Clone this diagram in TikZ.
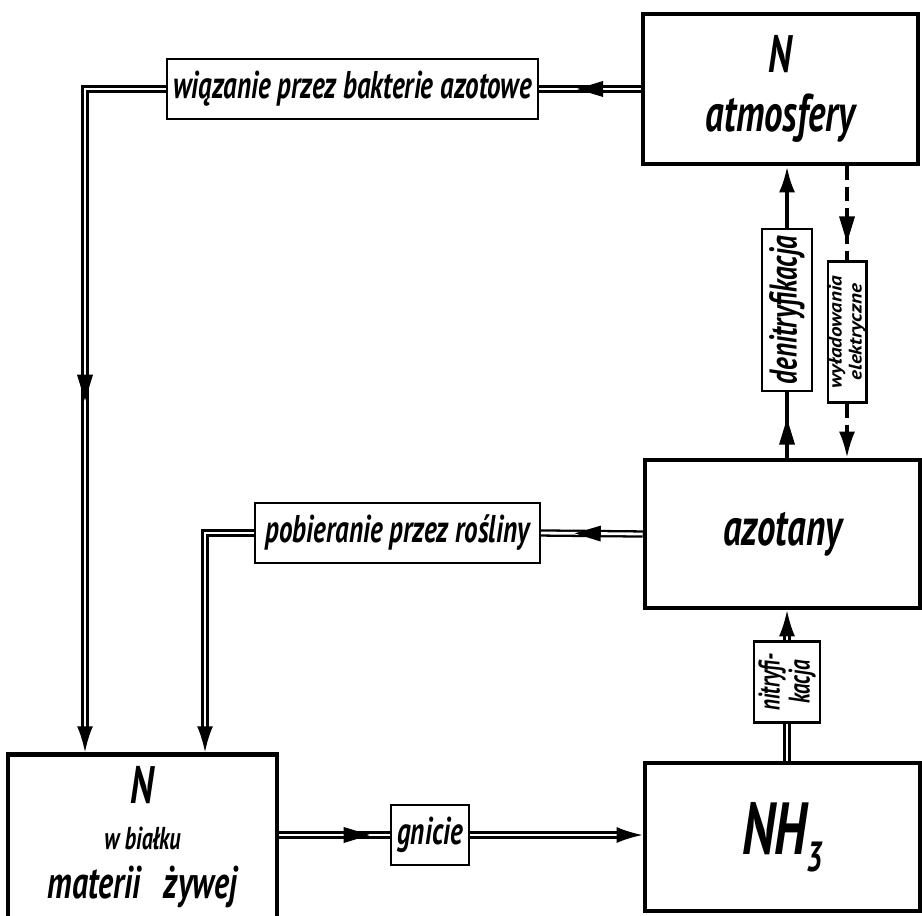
\documentclass[tikz,border=0pt]{standalone}
\usepackage{fontspec}
\newfontfamily\handfont{PT Sans}[FakeStretch=0.7]
\newfontfamily\widefont{PT Sans}[FakeStretch=1.15]
\usetikzlibrary{arrows.meta,positioning,decorations.markings}

\begin{document}
\begin{tikzpicture}[
  pool/.style={draw, rectangle, line width=1.3pt, minimum width=2.75cm, minimum height=1.5cm,
               align=center, font=\handfont\bfseries\itshape\fontsize{15}{17}\selectfont},
  lbl/.style={draw, rectangle, line width=0.6pt, fill=white, inner xsep=1.8pt, inner ysep=3.5pt,
              font=\handfont\bfseries\itshape\fontsize{11}{11}\selectfont},
  flow/.style={double, double distance=0.8pt, line width=0.65pt},
  tip/.style={-{Latex[length=2.6mm,width=1.6mm]}},
  midtip/.style={postaction={decorate}, decoration={markings,
      mark=at position #1 with {\fill (0.13,0) -- (-0.13,0.08) -- (-0.13,-0.08) -- cycle;}}},
]
\useasboundingbox (0,0) rectangle (9.22,9.15);

% Pools of nitrogen
\node[pool] (atm)  at (7.805,8.26) {N\\atmosfery};
\node[pool, minimum height=1.48cm] (azot) at (7.825,3.81) {azotany};
\node[pool, minimum height=1.48cm] (nh3)  at (7.825,0.78)
  {\fontsize{21}{24}\selectfont NH\raisebox{-0.45ex}{\fontsize{12}{12}\selectfont 3}};
\node[pool, minimum width=2.69cm, font=\handfont\bfseries\itshape\fontsize{13}{14}\selectfont] (bial) at (1.425,0.78)
  {{\fontsize{15}{15}\selectfont N}\\[-1pt]{\fontsize{9}{10}\selectfont w białku}\\materii\enspace żywej};

% Process labels
\node[lbl] (wiaz) at (3.525,8.26) {wiązanie przez bakterie azotowe};
\node[lbl, inner xsep=3pt] (pob)  at (3.975,3.82) {pobieranie przez rośliny};
\node[lbl] (gni)  at (4.30,0.80)  {gnicie};
\node[lbl, rotate=90, align=center, inner sep=1.2pt, minimum width=0.81cm,
      font=\handfont\bfseries\itshape\fontsize{8.5}{8.5}\selectfont] (nit) at (7.87,2.33) {nitryfi-\\kacja};
\node[lbl, rotate=90, inner xsep=2pt, inner ysep=2pt] (den) at (7.87,6.05) {denitryfikacja};
\node[lbl, rotate=90, align=center, inner sep=0.3pt, minimum width=1.41cm,
      font=\widefont\bfseries\itshape\fontsize{5.2}{4.6}\selectfont] (wyl) at (8.47,5.83) {wyładowania\\elektryczne};

% Corners of the left branches
\coordinate (c1) at (0.85,8.26);
\coordinate (c2) at (2.05,3.82);

% Flows
\draw[flow, midtip=0.5] (atm.west) -- (wiaz.east);
\draw[flow, tip, midtip=0.51] (wiaz.west) -- (c1) -- (c1 |- bial.north);
\draw[flow, midtip=0.54] (azot.west) -- (pob.east);
\draw[flow, tip] (pob.west) -- (c2) -- (c2 |- bial.north);
\draw[flow, midtip=0.7] (bial.east |- gni) -- (gni.west);
\draw[flow, tip] (gni.east) -- (nh3.west |- gni);
\draw[flow] (nh3.north -| nit) -- (nit.west);
\draw[flow, tip] (nit.east) -- (azot.south -| nit);
\draw[line width=1.1pt, midtip=0.4] (azot.north -| den) -- (den.west);
\draw[line width=1.1pt, tip] (den.east) -- (atm.south -| den);
\draw[line width=0.9pt, dash pattern=on 4pt off 2pt, midtip=0.67] (atm.south -| wyl) -- (wyl.east);
\draw[line width=0.9pt, dash pattern=on 4pt off 2pt, tip] (wyl.west) -- (azot.north -| wyl);
\end{tikzpicture}
\end{document}
